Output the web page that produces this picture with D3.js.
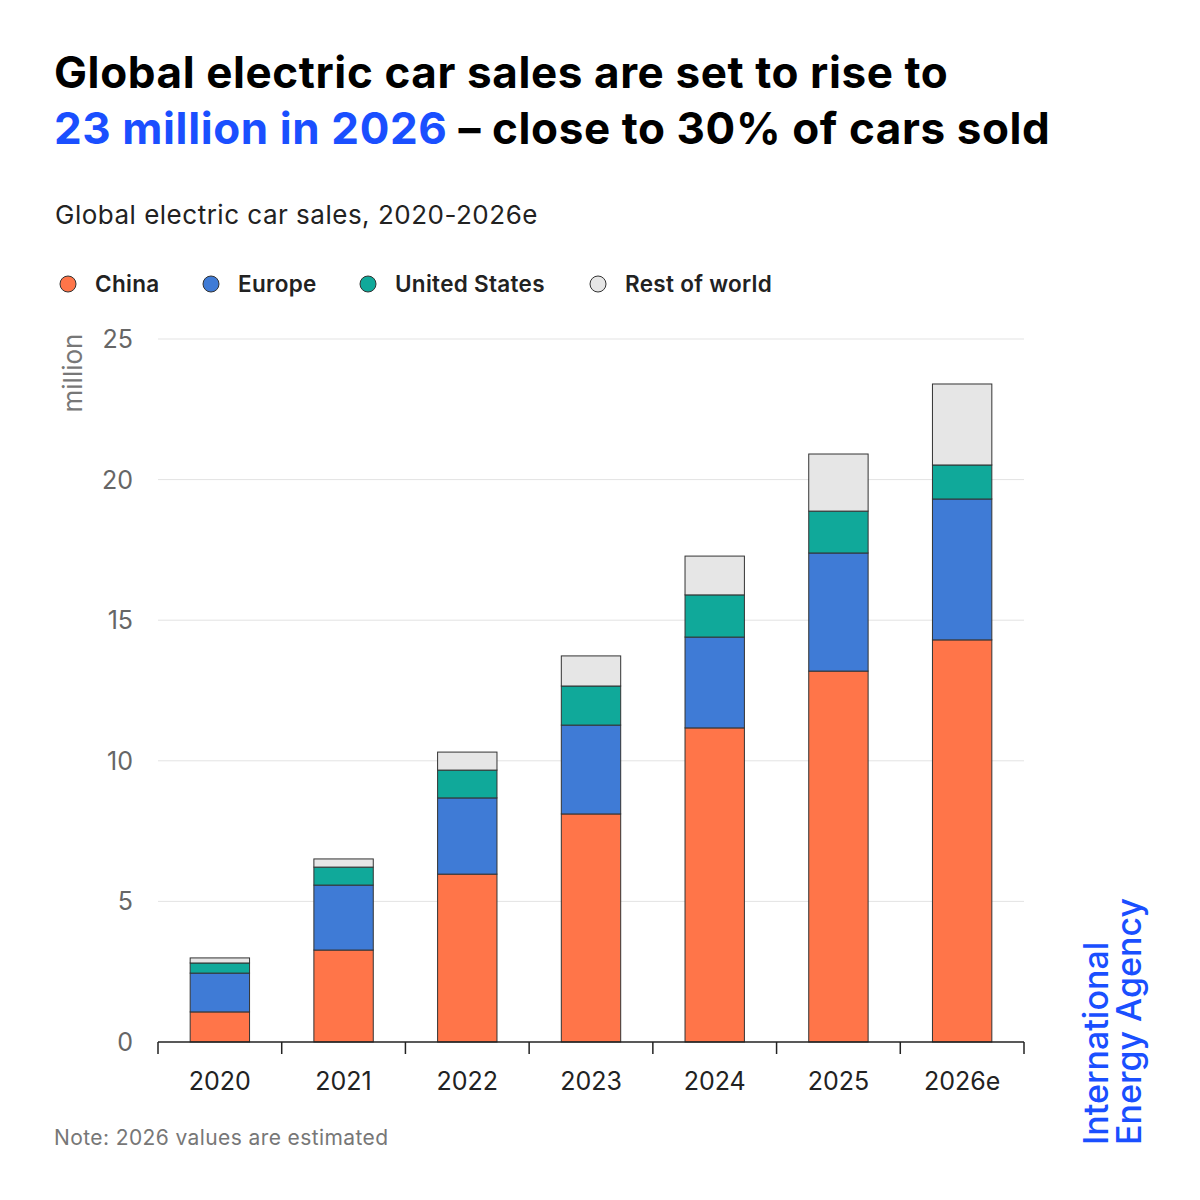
<!DOCTYPE html>
<html><head><meta charset="utf-8">
<script src="https://cdn.jsdelivr.net/npm/d3@7"></script>
<style>body{margin:0;background:#fff;font-family:Inter,"Open Sans",sans-serif;}</style>
</head><body><svg id="c" width="1200" height="1200"></svg>
<script>
const years = ["2020","2021","2022","2023","2024","2025","2026e"];
const china = [1.07,3.27,5.97,8.11,11.17,13.19,14.30];
const europe = [1.38,2.31,2.71,3.16,3.23,4.20,5.01];
const us = [0.36,0.64,0.99,1.39,1.50,1.49,1.21];
const row = [0.18,0.29,0.64,1.07,1.38,2.03,2.88];
const seriesNames = ["China","Europe","United States","Rest of world"];
const colors = ["#ff7549","#3f7bd6","#10a99a","#e6e6e6"];
const yTicks = [0,5,10,15,20,25];

const svg = d3.select("#c");
svg.append("text").attr("x",54).attr("y",88).attr("font-size",44).attr("letter-spacing",0.6).attr("font-weight",700).attr("fill","#000").text("Global electric car sales are set to rise to");
const t2 = svg.append("text").attr("x",54).attr("y",144).attr("font-size",44).attr("letter-spacing",0.6).attr("font-weight",700).attr("fill","#000");
t2.append("tspan").attr("fill","#1a4fff").text("23 million in 2026");
t2.append("tspan").text(" – close to 30% of cars sold");
svg.append("text").attr("x",55).attr("y",224).attr("font-size",26).attr("letter-spacing",0.5).attr("fill","#222").text("Global electric car sales, 2020-2026e");

const lx = [68,211,368,598];
seriesNames.forEach((n,i)=>{
  svg.append("circle").attr("cx",lx[i]).attr("cy",284).attr("r",8).attr("fill",colors[i]).attr("stroke","#333").attr("stroke-width",1);
  svg.append("text").attr("x",lx[i]+27).attr("y",292).attr("font-size",22.5).attr("letter-spacing",0.3).attr("font-weight",600).attr("fill","#222").text(n);
});

const x = d3.scaleBand().domain(years).range([158,1024]).paddingInner(0.52).paddingOuter(0.26);
const y = d3.scaleLinear().domain([0,25]).range([1042,339]);

svg.append("g").selectAll("line").data(yTicks.filter(d=>d>0)).join("line")
  .attr("x1",158).attr("x2",1024).attr("y1",d=>y(d)).attr("y2",d=>y(d)).attr("stroke","#e3e3e3");
svg.append("g").selectAll("text").data(yTicks).join("text")
  .attr("x",133).attr("y",d=>y(d)+9).attr("text-anchor","end").attr("font-size",25).attr("fill","#666").text(d=>d);
svg.append("text").attr("transform","translate(82,373) rotate(-90)").attr("text-anchor","middle").attr("font-size",26).attr("fill","#777").text("million");

const data = years.map((yr,i)=>({year:yr,China:china[i],Europe:europe[i],"United States":us[i],"Rest of world":row[i]}));
const stack = d3.stack().keys(seriesNames)(data);
svg.append("g").selectAll("g").data(stack).join("g").attr("fill",(d,i)=>colors[i])
  .selectAll("rect").data(d=>d).join("rect")
  .attr("x",d=>x(d.data.year)).attr("width",x.bandwidth())
  .attr("y",d=>y(d[1])).attr("height",d=>y(d[0])-y(d[1]))
  .attr("stroke","#333").attr("stroke-width",1);

const xAxisY = 1042;
svg.append("line").attr("x1",158).attr("x2",1024).attr("y1",xAxisY).attr("y2",xAxisY).attr("stroke","#222").attr("stroke-width",1.5);
const step = x.step();
const bounds = years.map(yr=>x(yr)-(step-x.bandwidth())/2).concat([1024]);
bounds[0]=158;
svg.append("g").selectAll("line").data(bounds).join("line")
  .attr("x1",d=>d).attr("x2",d=>d).attr("y1",xAxisY).attr("y2",xAxisY+12).attr("stroke","#222").attr("stroke-width",1.5);
svg.append("g").selectAll("text").data(years).join("text")
  .attr("x",d=>x(d)+x.bandwidth()/2).attr("y",1090).attr("text-anchor","middle").attr("font-size",25).attr("fill","#222").text(d=>d);

svg.append("text").attr("x",54).attr("y",1145).attr("font-size",21).attr("letter-spacing",0.4).attr("fill","#777").text("Note: 2026 values are estimated");

const logo = svg.append("g").attr("transform","translate(1108,1145) rotate(-90)").attr("font-size",34).attr("font-weight",500).attr("fill","#1a4fff");
logo.append("text").attr("x",0).attr("y",0).text("International");
logo.append("text").attr("x",0).attr("y",33).text("Energy Agency");
</script></body></html>
